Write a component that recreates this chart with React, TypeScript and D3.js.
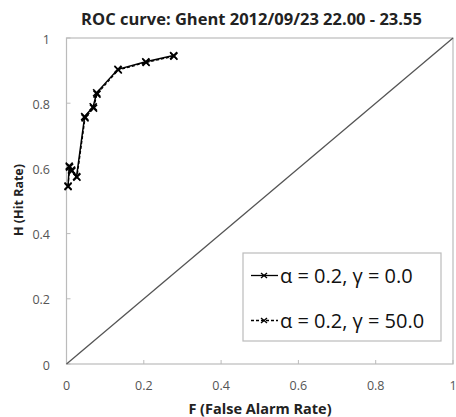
import React from "react";
import * as d3 from "d3";

const W = 456;
const H = 417;

const titleText = "ROC curve: Ghent 2012/09/23 22.00 - 23.55";
const xLabel = "F (False Alarm Rate)";
const yLabel = "H (Hit Rate)";
const xTicks = [0, 0.2, 0.4, 0.6, 0.8, 1];
const yTicks = [0, 0.2, 0.4, 0.6, 0.8, 1];
const xTickLabels = ["0", "0.2", "0.4", "0.6", "0.8", "1"];
const yTickLabels = ["0", "0.2", "0.4", "0.6", "0.8", "1"];

const seriesNames = ["α = 0.2, γ = 0.0", "α = 0.2, γ = 50.0"];
const falseAlarmA = [0.004, 0.007, 0.013, 0.026, 0.047, 0.069, 0.078, 0.133, 0.205, 0.277];
const hitRateA = [0.544, 0.607, 0.595, 0.575, 0.759, 0.789, 0.832, 0.904, 0.927, 0.946];
const falseAlarmB = [0.004, 0.008, 0.014, 0.027, 0.048, 0.07, 0.079, 0.134, 0.206, 0.278];
const hitRateB = [0.546, 0.604, 0.592, 0.573, 0.755, 0.785, 0.828, 0.902, 0.925, 0.944];

const font = "Open Sans, sans-serif";

function Marker({ x, y }: { x: number; y: number }) {
  const s = 3.5;
  return (
    <g stroke="#000" strokeWidth={1.6} fill="none">
      <line x1={x - s} y1={y - s} x2={x + s} y2={y + s} />
      <line x1={x - s} y1={y + s} x2={x + s} y2={y - s} />
    </g>
  );
}

export default function App() {
  const left = 66.5;
  const right = 453;
  const top = 38;
  const bottom = 364;
  const x = d3.scaleLinear().domain([0, 1]).range([left, right]);
  const y = d3.scaleLinear().domain([0, 1]).range([bottom, top]);
  const line = d3
    .line<[number, number]>()
    .x((d) => x(d[0]))
    .y((d) => y(d[1]));
  const ptsA: [number, number][] = falseAlarmA.map((f, i) => [f, hitRateA[i]]);
  const ptsB: [number, number][] = falseAlarmB.map((f, i) => [f, hitRateB[i]]);

  const lx = 243, ly = 253, lw = 198, lh = 88;
  const rows = [
    { name: seriesNames[0], dash: undefined as string | undefined, yy: 275.5 },
    { name: seriesNames[1], dash: "3,2", yy: 320.5 },
  ];

  return (
    <svg
      width={W}
      height={H}
      style={{ position: "absolute", left: 0, top: 0, background: "#fff" }}
      fontFamily={font}
    >
      <rect x={0} y={0} width={W} height={H} fill="#fff" />
      <text x={251.5} y={25} textAnchor="middle" fontWeight="bold" fontSize={16.5} fill="#222">
        {titleText}
      </text>
      {/* frame */}
      <rect x={left} y={top} width={right - left} height={bottom - top} fill="none" stroke="#bbb" strokeWidth={1.2} />
      {/* ticks */}
      {xTicks.map((t, i) => (
        <g key={"xt" + i}>
          <line x1={x(t)} x2={x(t)} y1={bottom} y2={bottom - 4} stroke="#bbb" />
          <text x={x(t)} y={bottom + 26} textAnchor="middle" fontSize={12.5} fill="#555">
            {xTickLabels[i]}
          </text>
        </g>
      ))}
      {yTicks.map((t, i) => (
        <g key={"yt" + i}>
          <line x1={left} x2={left + 4} y1={y(t)} y2={y(t)} stroke="#bbb" />
          <text x={50} y={y(t) + 5.5} textAnchor="end" fontSize={12.5} fill="#555">
            {yTickLabels[i]}
          </text>
        </g>
      ))}
      <text x={260} y={414} textAnchor="middle" fontWeight="bold" fontSize={14.5} fill="#222">
        {xLabel}
      </text>
      <text
        transform={`translate(22.5,${200}) rotate(-90)`}
        textAnchor="middle"
        fontWeight="bold"
        fontSize={12.5}
        fill="#222"
      >
        {yLabel}
      </text>
      {/* diagonal */}
      <line x1={x(0)} y1={y(0)} x2={x(1)} y2={y(1)} stroke="#555" strokeWidth={1.3} />
      {/* series */}
      <path d={line(ptsB) || ""} fill="none" stroke="#000" strokeWidth={1.3} strokeDasharray="3,2" />
      <path d={line(ptsA) || ""} fill="none" stroke="#000" strokeWidth={1.5} />
      {ptsB.map((p, i) => (
        <Marker key={"mb" + i} x={x(p[0])} y={y(p[1])} />
      ))}
      {ptsA.map((p, i) => (
        <Marker key={"ma" + i} x={x(p[0])} y={y(p[1])} />
      ))}
      {/* legend */}
      <rect x={lx} y={ly} width={lw} height={lh} fill="#fff" stroke="#bbb" strokeWidth={1.2} />
      {rows.map((r, i) => (
        <g key={"lg" + i}>
          <line x1={251} x2={278} y1={r.yy} y2={r.yy} stroke="#000" strokeWidth={1.3} strokeDasharray={r.dash} />
          <g transform={`translate(264,${r.yy})`}>
            <line x1={-3} y1={-2.5} x2={3} y2={2.5} stroke="#000" strokeWidth={1.3} />
            <line x1={-3} y1={2.5} x2={3} y2={-2.5} stroke="#000" strokeWidth={1.3} />
          </g>
          <text x={280} y={r.yy + 7.5} fontSize={20} fill="#111">
            {r.name}
          </text>
        </g>
      ))}
    </svg>
  );
}
